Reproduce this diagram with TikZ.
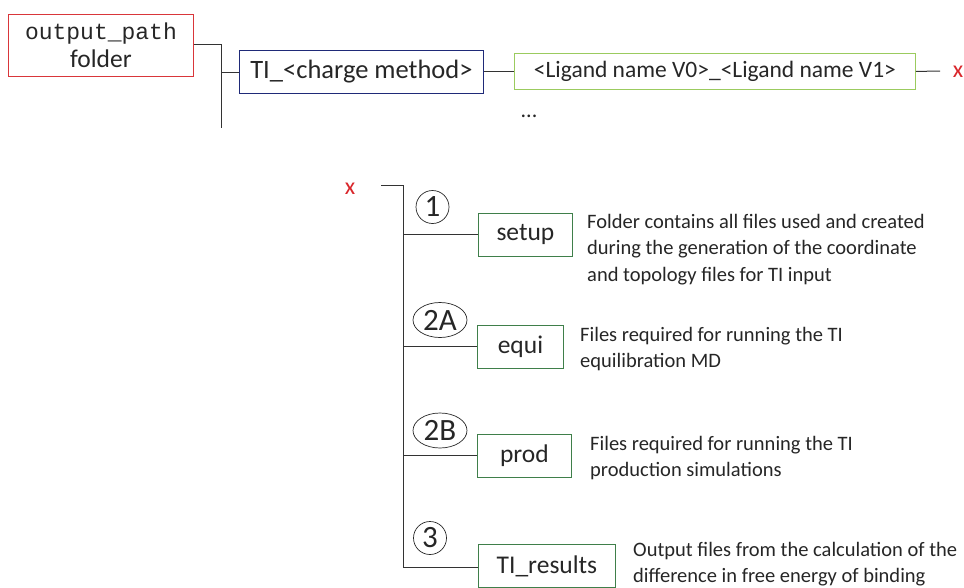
\documentclass[tikz,border=0pt]{standalone}
\usepackage{fontspec}
\setmainfont{Carlito}
\newfontfamily\monof{Liberation Mono}
\usetikzlibrary{shapes.geometric}
\definecolor{txt}{HTML}{262626}
\definecolor{redb}{HTML}{D9363A}
\definecolor{navyb}{HTML}{1F2A78}
\definecolor{lgreen}{HTML}{9BCB5E}
\definecolor{dgreen}{HTML}{3F7F4A}
\definecolor{redx}{HTML}{D9262B}
\tikzset{
  box/.style={draw, line width=0.9pt, inner sep=0pt, text=txt},
  fbox/.style={box, draw=dgreen, minimum height=43pt, font=\fontsize{25.5}{28}\selectfont},
  desc/.style={anchor=north west, align=left, inner sep=0pt, text=txt, font=\fontsize{20.5}{26.5}\selectfont},
  num/.style={draw=txt, line width=0.7pt, inner sep=0pt, text=txt, font=\fontsize{31}{32}\selectfont},
  conn/.style={line width=1pt, draw=black!80},
  xm/.style={text=redx, font=\fontsize{24}{24}\selectfont, inner sep=0pt}
}
\begin{document}
\begin{tikzpicture}[x=1pt,y=-1pt]
\useasboundingbox (0,0) rectangle (964,587);
% top level
\node[box, draw=redb, minimum width=185pt, minimum height=62pt, anchor=north west, align=center] (out) at (8,14)
  {{\monof\fontsize{23}{24}\selectfont output\_path}\\[5pt]{\fontsize{25.5}{26}\selectfont folder}};
\node[box, draw=navyb, minimum width=244pt, minimum height=43pt, anchor=north west, font=\fontsize{26.5}{28}\selectfont] (ti) at (239,50) {TI\_<charge method>};
\node[box, draw=lgreen, minimum width=401pt, minimum height=36pt, anchor=north west, font=\fontsize{23.5}{25}\selectfont] (lig) at (514,53) {<Ligand name V0>\_<Ligand name V1>};
\node[xm] (x1) at (958,72) {x};
\node[text=txt, font=\fontsize{22}{22}\selectfont, inner sep=0pt] (dots) at (529,116) {...};
\coordinate (j1) at (221,44);
\coordinate (j2) at (221,72);
\coordinate (j3) at (221,128);
\coordinate (xe) at (940,71);
\draw[conn] (out.east |- j1) -- (j1) -- (j3);
\draw[conn] (j2) -- (ti.west |- j2);
\draw[conn] (ti.east |- lig.west) -- (lig.west);
\draw[conn] (lig.east) -- (xe);
% lower tree
\node[xm] (x2) at (350,189) {x};
\coordinate (t0) at (381,185);
\coordinate (t1) at (403,185);
\node[fbox, minimum width=94pt, anchor=north west] (setup) at (478,213) {setup};
\node[fbox, minimum width=86pt, anchor=north west] (equi) at (477,325) {equi};
\node[fbox, minimum width=94pt, anchor=north west] (prod) at (477,434) {prod};
\node[fbox, minimum width=137pt, anchor=north west] (res) at (478,544) {TI\_results};
\coordinate (tb) at (403,567);
\draw[conn] (t0) -- (t1) -- (tb) -- (res.west |- tb);
\draw[conn] (t1 |- setup.west) -- (setup.west);
\draw[conn] (t1 |- equi.west) -- (equi.west);
\draw[conn] (t1 |- prod.west) -- (prod.west);
% numbers
\node[num, circle, minimum size=33pt] (n1) at (432.5,207) {1};
\node[num, ellipse, minimum width=54pt, minimum height=35pt] (n2a) at (440,320) {2A};
\node[num, ellipse, minimum width=54pt, minimum height=35pt] (n2b) at (440,430.5) {2B};
\node[num, circle, minimum size=33pt] (n3) at (430,538) {3};
% descriptions
\node[desc] (d1) at (587,214) {Folder contains all files used and created\\during the generation of the coordinate\\and topology files for TI input};
\node[desc] (d2) at (580,327) {Files required for running the TI\\equilibration MD};
\node[desc] (d3) at (590,436) {Files required for running the TI\\production simulations};
\node[desc] (d4) at (633,542) {Output files from the calculation of the\\difference in free energy of binding};
\end{tikzpicture}
\end{document}
